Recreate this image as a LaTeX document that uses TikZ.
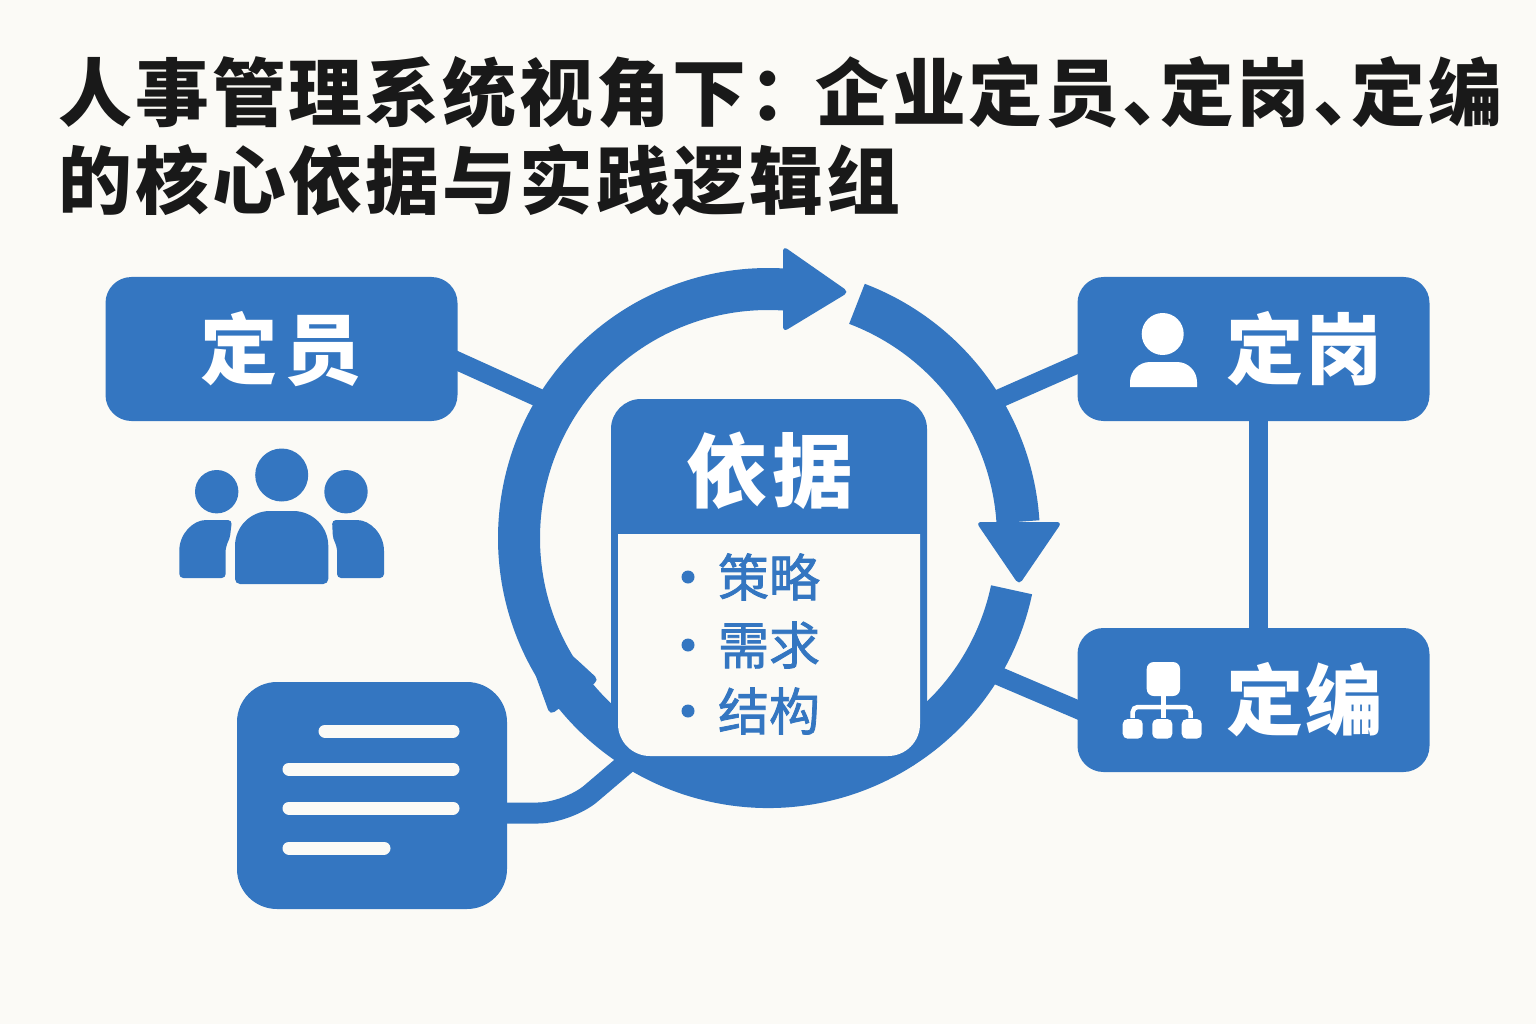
\documentclass[tikz,border=0pt]{standalone}
\usepackage{fontspec}
\setmainfont{Noto Sans CJK SC}
\newfontfamily\titlefont[LetterSpace=4]{Noto Sans CJK SC}
\newfontfamily\itemfont[FakeBold=1.6]{Noto Sans CJK SC}
\definecolor{hrblue}{HTML}{3476C1}
\definecolor{paper}{HTML}{FBFAF6}
\newcommand{\twochars}[3]{#1\hspace{#3}#2}
\newcommand{\pgap}{\hspace{-0.36cm}}
\tikzset{
  hrbox/.style={fill=hrblue,text=white,font=\bfseries\fontsize{22}{24}\selectfont,rounded corners=0.26cm,minimum width=3.52cm,minimum height=1.44cm,inner sep=0pt},
  link/.style={draw=hrblue,line width=0.185cm,shorten <=-0.12cm},
  ringband/.style={draw=hrblue,line width=0.42cm},
  tip/.style={fill=hrblue,rounded corners=1.5pt},
  docline/.style={draw=paper,line width=0.13cm,line cap=round},
  item/.style={text=hrblue,font=\itemfont\fontsize{14.5}{16}\selectfont,inner sep=0pt}
}
\begin{document}
\begin{tikzpicture}
\fill[paper](0,0)rectangle(15.36,10.24);
\useasboundingbox(0,0)rectangle(15.36,10.24);
\node(title)[anchor=north west,inner sep=0pt,align=left,font=\titlefont\bfseries\fontsize{21}{25}\selectfont,text=black!90]
at(0.58,9.68){人事管理系统视角下：\hspace{-0.08cm}企业定员、\pgap 定岗、\pgap 定编\\的核心依据与实践逻辑组};
% boxes
\node(dingyuan)[hrbox] at(2.815,6.75){\twochars{定}{员}{0.07cm}};
\node(dinggang)[hrbox] at(12.535,6.75){\hspace*{1.02cm}\twochars{定}{岗}{0.02cm}};
\node(dingbian)[hrbox] at(12.535,3.24){\hspace*{1.02cm}\twochars{定}{编}{0.02cm}};
\node(docbox)[hrbox,minimum width=2.7cm,minimum height=2.27cm,rounded corners=0.4cm] at(3.72,2.285){};
\begin{scope}[shift={(7.68,4.86)}]
\coordinate(ringnw)at(148:2.49);
\coordinate(ringne)at(31.7:2.49);
\coordinate(ringse)at(-31.5:2.49);
\coordinate(ringsw)at(239.1:2.49);
\end{scope}
\draw[link](dingyuan.-4.6)--(ringnw);
\draw[link](dinggang.185.6)--(ringne);
\draw[link](dingbian.183.3)--(ringse);
\draw[link,line width=0.19cm,shorten >=-0.03cm](dinggang.south -| 12.58,0)--(dingbian.north -| 12.58,0);
\draw[link,line width=0.21cm,rounded corners=0.3cm](docbox.east |- 0,2.11)--(5.68,2.11)--(ringsw);
% ring
\begin{scope}[shift={(7.68,4.86)}]
\draw[ringband,line width=0.43cm](69.2:2.505)arc(69.2:3.7:2.505);
\draw[ringband](-12:2.49)arc(-12:-141:2.49);
\draw[ringband](219:2.49)arc(219:86.3:2.49);
\end{scope}
\fill[tip](7.83,7.78)--(8.49,7.32)--(7.83,6.92)--cycle;
\fill[tip](9.76,5.02)--(10.62,5.02)--(10.19,4.39)--cycle;
\fill[tip](5.50,3.09)--(5.99,3.44)--(5.74,3.67)--(5.12,4.14)--cycle;
% centre card
\fill[hrblue,rounded corners=0.3cm](6.11,2.54)rectangle(9.27,6.25);
\fill[paper](6.18,4.9)--(6.18,3.0)arc(180:270:0.32)--(8.88,2.68)arc(270:360:0.32)--(9.2,4.9)--cycle;
\node(basis)[text=white,inner sep=0pt,font=\bfseries\fontsize{23}{26}\selectfont] at(7.7,5.53){\twochars{依}{据}{0.06cm}};
\foreach \y/\t/\n in{4.47/策略/a,3.79/需求/b,3.13/结构/c}{
\fill[hrblue](6.88,\y)circle(0.065);
\node(item\n)[item] at(7.69,\y){\t};
}
% people icon
\fill[hrblue](2.817,5.49)circle(0.265);
\fill[hrblue](2.167,5.323)circle(0.217);
\fill[hrblue](3.46,5.323)circle(0.217);
\fill[hrblue,rounded corners=0.05cm](2.35,4.4)--(2.35,4.6)[rounded corners=0.35cm]--(2.35,5.13)--(3.283,5.13)[rounded corners=0.05cm]--(3.283,4.4)--cycle;
\fill[hrblue](1.793,4.5)[rounded corners=0.04cm]--(1.793,4.46)--(2.257,4.46)--(2.257,4.7)
arc(180:150:0.3)--(2.32,5.04)--(2.1,5.04)[sharp corners]arc(90:180:0.307)--cycle;
\fill[hrblue](3.84,4.5)[rounded corners=0.04cm]--(3.84,4.46)--(3.37,4.46)--(3.37,4.7)
arc(0:30:0.3)--(3.32,5.04)--(3.53,5.04)[sharp corners]arc(90:0:0.31)--cycle;
% person icon
\fill[white](11.627,6.9)circle(0.21);
\fill[white](11.3,6.37)--(11.3,6.42)arc(180:90:0.2)--(11.77,6.62)arc(90:0:0.2)--(11.97,6.37)--cycle;
% org icon
\fill[white,rounded corners=0.07cm](11.467,3.28)rectangle(11.8,3.62);
\draw[white,line width=0.05cm](11.63,3.28)--(11.63,3.06);
\draw[white,line width=0.045cm,rounded corners=0.05cm](11.327,3.06)--(11.327,3.17)--(11.907,3.17)--(11.907,3.06);
\foreach \x in{11.227,11.523,11.817}
\fill[white,rounded corners=0.05cm](\x,2.853)rectangle(\x+0.2,3.05);
% doc lines
\draw[docline](3.25,2.93)--(4.53,2.93);
\draw[docline](2.89,2.55)--(4.53,2.55);
\draw[docline](2.89,2.16)--(4.53,2.16);
\draw[docline](2.89,1.76)--(3.84,1.76);
\end{tikzpicture}
\end{document}
